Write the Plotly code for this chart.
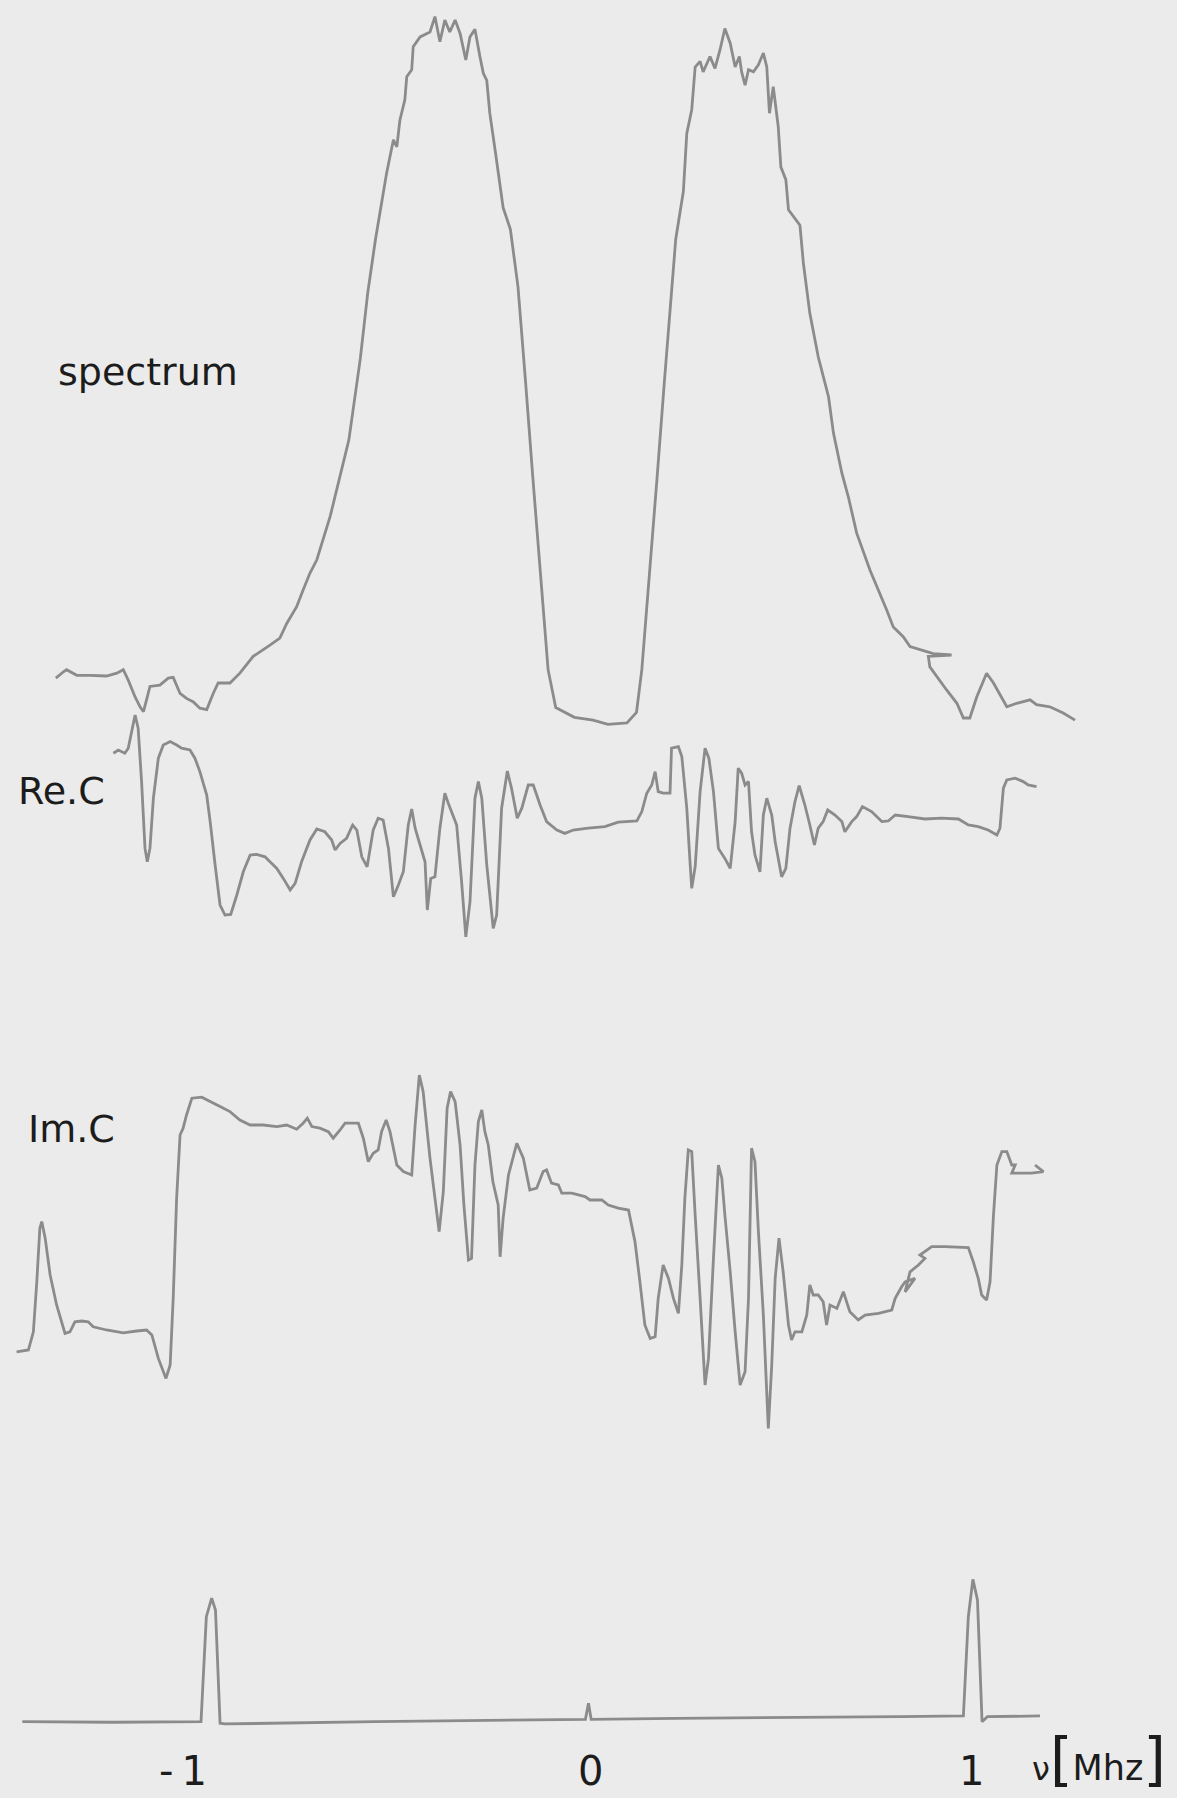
import plotly.graph_objects as go

# ---------------- data (frequency in MHz, amplitudes in arbitrary units) ----------------
spectrum_x = [
    -1.402, -1.382, -1.374, -1.347, -1.312, -1.269, -1.242, -1.225, -1.212, -1.194,
    -1.181, -1.172, -1.164, -1.155, -1.129, -1.107, -1.094, -1.076, -1.059, -1.041,
    -1.024, -1.006, -0.989, -0.976, -0.945, -0.919, -0.884, -0.840, -0.814, -0.796,
    -0.770, -0.753, -0.735, -0.717, -0.682, -0.633, -0.603, -0.583, -0.563, -0.534,
    -0.516, -0.507, -0.499, -0.486, -0.481, -0.468, -0.464, -0.446, -0.420, -0.407,
    -0.394, -0.381, -0.368, -0.354, -0.341, -0.326, -0.315, -0.302, -0.289, -0.280,
    -0.271, -0.263, -0.249, -0.228, -0.209, -0.189, -0.169, -0.150, -0.130, -0.110,
    -0.090, -0.041, 0.008, 0.047, 0.097, 0.122, 0.136, 0.156, 0.176, 0.195,
    0.225, 0.245, 0.254, 0.267, 0.276, 0.289, 0.297, 0.315, 0.328, 0.341,
    0.354, 0.368, 0.381, 0.392, 0.398, 0.407, 0.416, 0.429, 0.442, 0.455,
    0.464, 0.471, 0.481, 0.494, 0.501, 0.514, 0.521, 0.551, 0.560, 0.577,
    0.599, 0.608, 0.626, 0.639, 0.661, 0.678, 0.700, 0.735, 0.779, 0.796,
    0.822, 0.840, 0.901, 0.949, 0.888, 0.892, 0.936, 0.963, 0.980, 0.997,
    1.015, 1.041, 1.059, 1.094, 1.120, 1.155, 1.172, 1.207, 1.242, 1.273,
]
spectrum_y = [
    6.7, 7.6, 7.9, 7.1, 7.1, 7.0, 7.4, 7.9, 6.4, 4.0,
    2.6, 1.9, 3.6, 5.5, 5.7, 6.7, 6.8, 4.5, 3.8, 3.3,
    2.4, 2.2, 4.5, 6.0, 6.0, 7.4, 9.8, 11.4, 12.4, 14.5,
    16.9, 19.3, 21.7, 23.6, 29.8, 40.7, 52.3, 61.9, 69.4, 78.8,
    83.6, 82.6, 86.4, 89.3, 92.6, 93.6, 96.9, 98.3, 99.0, 101.2,
    97.6, 100.7, 99.0, 100.7, 98.8, 95.0, 98.3, 99.4, 95.5, 93.1,
    92.1, 87.4, 82.1, 73.9, 70.8, 62.6, 48.9, 35.3, 21.6, 7.9,
    2.5, 1.1, 0.7, 0.1, 0.3, 1.8, 7.9, 21.6, 35.3, 48.9,
    69.4, 76.2, 84.5, 87.9, 94.0, 94.8, 93.3, 95.5, 93.8, 96.4,
    99.5, 97.4, 94.0, 95.5, 93.3, 91.4, 93.6, 93.3, 94.3, 96.0,
    94.0, 87.4, 91.2, 85.5, 79.7, 77.9, 73.6, 71.4, 66.0, 58.8,
    52.6, 50.7, 46.9, 41.7, 36.0, 32.6, 27.4, 22.1, 16.4, 14.0,
    12.6, 11.2, 10.2, 10.0, 9.8, 8.3, 5.0, 3.1, 1.0, 1.0,
    4.0, 7.4, 6.0, 2.6, 3.1, 3.6, 2.9, 2.6, 1.7, 0.7,
]

re_c_x = [
    -1.251, -1.238, -1.221, -1.212, -1.203, -1.194, -1.186, -1.177, -1.168, -1.162,
    -1.155, -1.146, -1.133, -1.120, -1.102, -1.085, -1.072, -1.050, -1.037, -1.024,
    -1.006, -0.997, -0.984, -0.971, -0.958, -0.943, -0.927, -0.910, -0.892, -0.875,
    -0.853, -0.840, -0.822, -0.805, -0.787, -0.774, -0.757, -0.735, -0.717, -0.696,
    -0.678, -0.669, -0.656, -0.639, -0.623, -0.612, -0.599, -0.585, -0.569, -0.556,
    -0.543, -0.529, -0.516, -0.503, -0.490, -0.477, -0.468, -0.459, -0.446, -0.433,
    -0.427, -0.418, -0.407, -0.394, -0.381, -0.372, -0.350, -0.337, -0.326, -0.315,
    -0.302, -0.293, -0.284, -0.271, -0.254, -0.245, -0.232, -0.217, -0.206, -0.191,
    -0.179, -0.162, -0.149, -0.131, -0.114, -0.087, -0.066, -0.044, -0.005, 0.039,
    0.074, 0.123, 0.136, 0.149, 0.162, 0.171, 0.179, 0.192, 0.210, 0.214,
    0.232, 0.241, 0.254, 0.263, 0.267, 0.276, 0.289, 0.302, 0.312, 0.324,
    0.337, 0.354, 0.368, 0.381, 0.389, 0.398, 0.407, 0.416, 0.424, 0.433,
    0.446, 0.455, 0.464, 0.477, 0.486, 0.503, 0.514, 0.525, 0.538, 0.549,
    0.564, 0.577, 0.589, 0.599, 0.612, 0.624, 0.643, 0.661, 0.669, 0.687,
    0.700, 0.715, 0.739, 0.766, 0.783, 0.801, 0.835, 0.879, 0.923, 0.967,
    0.993, 1.019, 1.045, 1.068, 1.076, 1.085, 1.094, 1.116, 1.137, 1.150,
    1.172,
]
re_c_y = [
    38.4, 40.0, 38.4, 40.9, 49.2, 57.5, 50.9, 24.2, -9.2, -15.9,
    -9.2, 15.9, 35.9, 42.5, 44.2, 42.5, 40.9, 40.0, 35.9, 29.2,
    17.5, 4.2, -17.5, -37.5, -42.5, -42.2, -32.5, -20.9, -12.5, -12.2,
    -13.4, -15.9, -19.2, -24.2, -30.0, -26.7, -15.9, -5.0, 0.5, -0.9,
    -5.0, -10.0, -6.7, -4.2, 2.5, 0.0, -13.4, -18.4, 0.0, 5.9,
    5.0, -9.2, -33.4, -27.5, -20.9, 2.5, 10.5, 0.9, -7.5, -15.9,
    -40.0, -24.2, -23.4, 0.9, 18.4, 13.4, 2.5, -25.9, -53.4, -35.9,
    15.9, 24.2, 15.9, -17.5, -49.2, -42.5, 10.9, 29.5, 20.9, 5.9,
    10.9, 22.5, 22.5, 12.5, 4.2, 0.0, -1.7, 0.0, 0.9, 1.7,
    3.9, 4.5, 9.2, 18.4, 22.5, 29.2, 19.2, 18.4, 18.4, 40.9,
    41.7, 36.7, 10.9, -17.5, -29.2, -18.4, 19.2, 40.9, 35.9, 19.2,
    -9.2, -14.2, -19.2, 4.2, 30.9, 28.4, 22.5, 24.2, -0.9, -12.5,
    -20.9, 7.5, 15.9, 7.5, -5.9, -23.4, -19.2, 0.9, 14.2, 22.2,
    12.5, 2.5, -7.5, 0.9, 4.2, 10.0, 7.5, 4.2, -0.9, 4.2,
    6.7, 11.7, 9.2, 4.2, 4.5, 7.5, 6.7, 5.5, 5.9, 5.5,
    2.5, 1.7, 0.0, -2.5, 0.9, 20.9, 25.0, 25.9, 24.2, 22.5,
    21.7,
]

im_c_x = [
    -1.505, -1.474, -1.461, -1.452, -1.444, -1.439, -1.430, -1.417, -1.400, -1.378,
    -1.365, -1.352, -1.334, -1.317, -1.304, -1.269, -1.225, -1.190, -1.164, -1.150,
    -1.133, -1.113, -1.102, -1.094, -1.085, -1.076, -1.068, -1.059, -1.045, -1.019,
    -0.997, -0.971, -0.945, -0.919, -0.892, -0.858, -0.822, -0.796, -0.770, -0.753,
    -0.742, -0.730, -0.709, -0.687, -0.674, -0.656, -0.643, -0.608, -0.595, -0.582,
    -0.569, -0.556, -0.547, -0.535, -0.525, -0.507, -0.490, -0.468, -0.459, -0.448,
    -0.438, -0.420, -0.407, -0.396, -0.385, -0.375, -0.366, -0.354, -0.341, -0.331,
    -0.319, -0.311, -0.302, -0.293, -0.284, -0.276, -0.267, -0.255, -0.241, -0.236,
    -0.228, -0.214, -0.192, -0.175, -0.158, -0.140, -0.123, -0.114, -0.101, -0.083,
    -0.074, -0.048, -0.013, 0.000, 0.031, 0.048, 0.074, 0.101, 0.118, 0.131,
    0.144, 0.158, 0.171, 0.179, 0.192, 0.206, 0.219, 0.232, 0.241, 0.249,
    0.258, 0.267, 0.276, 0.289, 0.302, 0.311, 0.324, 0.337, 0.346, 0.354,
    0.368, 0.381, 0.394, 0.407, 0.416, 0.424, 0.433, 0.442, 0.455, 0.468,
    0.477, 0.486, 0.496, 0.507, 0.521, 0.529, 0.538, 0.556, 0.569, 0.577,
    0.586, 0.599, 0.612, 0.621, 0.630, 0.648, 0.665, 0.682, 0.704, 0.722,
    0.757, 0.792, 0.801, 0.818, 0.827, 0.853, 0.827, 0.840, 0.862, 0.879,
    0.866, 0.897, 0.932, 0.993, 1.006, 1.019, 1.028, 1.041, 1.050, 1.059,
    1.068, 1.081, 1.094, 1.107, 1.116, 1.107, 1.159, 1.190, 1.168,
]
im_c_y = [
    -50.9, -50.0, -40.9, -15.9, 10.9, 14.2, 5.9, -12.5, -27.5, -41.7,
    -40.9, -35.9, -35.5, -35.9, -38.4, -40.0, -41.4, -40.5, -40.0, -42.5,
    -54.2, -64.2, -57.5, -24.2, 25.9, 57.5, 60.9, 67.5, 75.9, 76.4,
    74.2, 71.7, 69.2, 65.0, 62.5, 62.5, 61.7, 62.5, 60.4, 63.4,
    65.9, 61.7, 60.9, 59.2, 55.9, 60.0, 63.4, 63.4, 55.9, 44.2,
    48.4, 50.0, 59.2, 65.0, 59.2, 42.5, 39.2, 37.5, 62.5, 87.5,
    79.2, 45.9, 25.9, 9.2, 29.2, 70.9, 79.2, 74.2, 52.5, 22.5,
    -5.0, -4.2, 42.5, 64.2, 70.0, 59.2, 52.5, 34.2, 22.5, -3.4,
    15.9, 37.5, 53.4, 45.9, 30.0, 30.9, 39.2, 40.0, 33.4, 32.5,
    28.4, 28.4, 26.7, 25.0, 25.0, 22.5, 20.9, 20.0, 4.2, -15.9,
    -37.5, -44.2, -43.4, -24.2, -7.5, -14.2, -24.2, -31.7, -7.5, 25.9,
    50.0, 49.2, 17.5, -24.2, -67.5, -54.2, -4.2, 42.5, 35.9, 17.5,
    -10.9, -40.9, -67.5, -60.9, -24.2, 50.9, 44.2, 9.2, -32.5, -89.2,
    -57.5, -14.2, 5.9, -10.9, -37.5, -45.0, -40.9, -40.9, -32.5, -17.5,
    -22.5, -22.5, -25.9, -37.5, -27.5, -29.2, -20.9, -30.9, -35.0, -32.5,
    -31.7, -30.0, -24.2, -18.4, -15.9, -14.2, -20.9, -10.9, -7.5, -4.2,
    -2.5, 1.7, 1.7, 1.2, -5.9, -14.2, -22.5, -25.0, -15.9, 17.5,
    42.5, 49.2, 49.2, 42.5, 42.5, 38.4, 38.4, 39.2, 42.5,
]

marker_x = [
    -1.490, -1.253, -1.021, -1.007, -0.993, -0.983, -0.971, -0.958, -0.563, -0.012,
    -0.004, 0.003, 0.225, 0.816, 0.980, 0.993, 1.005, 1.017, 1.029, 1.043,
    1.181,
]
marker_y = [
    0.2, -0.2, 0.2, 75.2, 88.4, 80.0, -0.9, -1.4, 0.2, 1.9,
    13.4, 1.9, 2.6, 3.8, 4.3, 75.2, 101.9, 87.1, 0.2, 3.8,
    4.3,
]

tick_values = [-1, 0, 1]
tick_labels = ["-\u20091", "0", "1"]
trace_labels = ["spectrum", "Re.C", "Im.C"]

# ---------------- styling ----------------
LINE = "#8b8b8b"
INK = "#1c1c1c"
BG = "#ebebeb"
FONT = "DejaVu Sans"
W, H = 1177, 1798

fig = go.Figure()
series = [
    (spectrum_x, spectrum_y, "y"),
    (re_c_x, re_c_y, "y2"),
    (im_c_x, im_c_y, "y3"),
    (marker_x, marker_y, "y4"),
]
for xs, ys, ax in series:
    fig.add_trace(go.Scatter(
        x=xs, y=ys, yaxis=ax, mode="lines",
        line=dict(color=LINE, width=2.8, simplify=False),
        hoverinfo="skip", showlegend=False,
    ))

hidden = dict(visible=False, showgrid=False, zeroline=False, fixedrange=True)
fig.update_layout(
    width=W, height=H, autosize=False,
    margin=dict(l=0, r=0, t=0, b=0, pad=0),
    paper_bgcolor=BG, plot_bgcolor=BG,
    showlegend=False,
    xaxis=dict(range=[-1.5486, 1.5407], domain=[0, 1], **hidden),
    yaxis=dict(range=[-153.29, 103.57], domain=[0, 1], **hidden),
    yaxis2=dict(range=[-484, 415], domain=[0, 1], overlaying="y", **hidden),
    yaxis3=dict(range=[-274, 625], domain=[0, 1], overlaying="y", **hidden),
    yaxis4=dict(range=[-54.29, 1230], domain=[0, 1], overlaying="y", **hidden),
)

# trace names
label_pos = [(0.0476, 0.7798), (0.014, 0.5467), (0.022, 0.3587)]
for txt, (px, py) in zip(trace_labels, label_pos):
    fig.add_annotation(text=txt, xref="paper", yref="paper", x=px, y=py,
                       xanchor="left", yanchor="bottom", showarrow=False,
                       font=dict(family=FONT, size=38, color=INK))

# frequency labels
anchors = ["right", "center", "center"]
for v, t, a in zip(tick_values, tick_labels, anchors):
    fig.add_annotation(text=t, xref="x", yref="paper", x=v, y=0.001,
                       xanchor=a, yanchor="bottom", showarrow=False,
                       font=dict(family=FONT, size=40, color=INK))

fig.add_annotation(
    text=('<span style="font-size:32px">ν</span>'
          '<span style="font-size:58px">[</span>Mhz'
          '<span style="font-size:58px">]</span>'),
    xref="paper", yref="paper", x=0.992, y=0.001, xanchor="right", yanchor="bottom",
    showarrow=False, font=dict(family=FONT, size=35, color=INK))

fig.write_html("out.html", config={"displayModeBar": False})
